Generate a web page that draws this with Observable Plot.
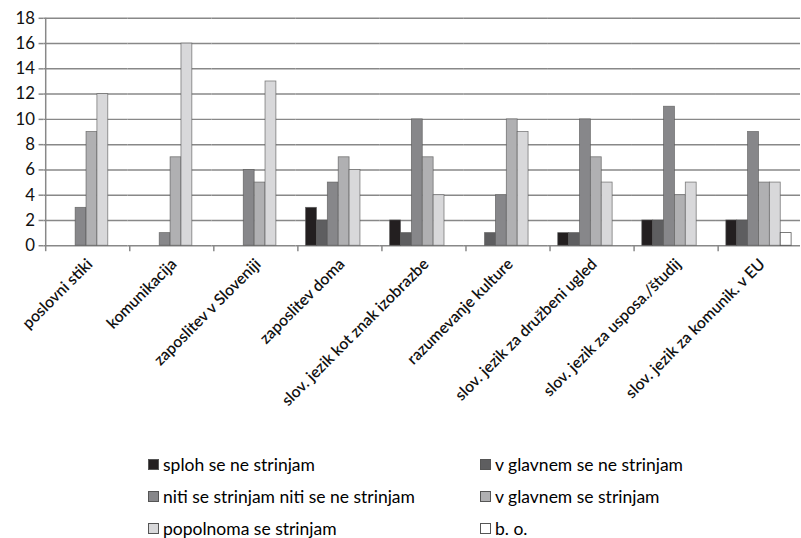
<!DOCTYPE html>
<html>
<head>
<meta charset="utf-8">
<script src="https://cdn.jsdelivr.net/npm/d3@7"></script>
<script src="https://cdn.jsdelivr.net/npm/@observablehq/plot@0.6"></script>
<style>
  html, body { margin: 0; padding: 0; background: #fff; overflow: hidden; }
  #chart svg { display: block; }
  .legend { display: grid; grid-template-columns: 332px auto; grid-auto-rows: 32px;
            margin-top: 13px; padding-left: 148px; font-family: Lato, sans-serif; font-size: 17.5px; color: #000; }
  .legend div { display: flex; align-items: center; }
  .legend span.sw { width: 11px; height: 11px; margin-right: 4px; box-sizing: border-box; border: 1px solid #555; }
</style>
</head>
<body>
<div id="chart"></div>
<div class="legend" id="legend"></div>
<script>
const categories = ["poslovni stiki", "komunikacija", "zaposlitev v Sloveniji", "zaposlitev doma",
  "slov. jezik kot znak izobrazbe", "razumevanje kulture", "slov. jezik za družbeni ugled",
  "slov. jezik za usposa./študij", "slov. jezik za komunik. v EU"];
const series = ["sploh se ne strinjam", "v glavnem se ne strinjam", "niti se strinjam niti se ne strinjam",
  "v glavnem se strinjam", "popolnoma se strinjam", "b. o."];
const colors = ["#231f20", "#5e5e60", "#87878a", "#b0b0b2", "#d8d8da", "#ffffff"];
const sploh      = [0, 0, 0, 3, 2, 0, 1, 2, 2];
const vglavnemNe = [0, 0, 0, 2, 1, 1, 1, 2, 2];
const niti       = [3, 1, 6, 5, 10, 4, 10, 11, 9];
const vglavnemDa = [9, 7, 5, 7, 7, 10, 7, 4, 5];
const popolnoma  = [12, 16, 13, 6, 4, 9, 5, 5, 5];
const bo         = [0, 0, 0, 0, 0, 0, 0, 0, 1];
const yTicks = [0, 2, 4, 6, 8, 10, 12, 14, 16, 18];

const seriesValues = [sploh, vglavnemNe, niti, vglavnemDa, popolnoma, bo];
const table = [];
categories.forEach((c, i) => series.forEach((s, j) => table.push({cat: c, series: s, value: seriesValues[j][i]})));

const paddingOuter = 0.7;
const facetW = 85;
const step = facetW / (series.length + 2 * paddingOuter);
const edge = -step * (0.5 + paddingOuter);

const chart = Plot.plot({
  width: 810, height: 440,
  marginLeft: 44, marginRight: 1, marginTop: 18, marginBottom: 192,
  style: {fontFamily: "Lato, sans-serif", fontSize: "15px", color: "#111", background: "#fff"},
  fx: {domain: categories, padding: 0, label: null},
  x: {domain: series, paddingInner: 0, paddingOuter: paddingOuter, axis: null},
  y: {domain: [0, 18], axis: null},
  color: {domain: series, range: colors},
  marks: [
    Plot.ruleY(yTicks, {stroke: "#888", strokeWidth: 1.5}),
    Plot.ruleX(categories, {fx: d => d, x: () => series[0], dx: edge, y1: 0, y2: -0.47, stroke: "#888", strokeWidth: 1.5}),
    Plot.ruleX([categories[0]], {fx: d => d, x: () => series[0], dx: edge, y1: 0, y2: 18, stroke: "#888", strokeWidth: 1.5}),
    Plot.barY(table.filter(d => d.value > 0), {fx: "cat", x: "series", y: "value", fill: "series",
      stroke: d => d.series === "b. o." ? "#222" : "#555", strokeOpacity: 0.75, strokeWidth: 0.8}),
    Plot.axisY({ticks: yTicks, tickSize: 5, tickPadding: 4, fontSize: 17, stroke: "#888", strokeWidth: 1.5, label: null}),
    Plot.axisFx({anchor: "bottom", tickRotate: -45, tickSize: 0, tickPadding: 14, dx: 4, dy: 2, label: null,
      fontSize: 16, fontWeight: 600})
  ]
});
document.getElementById("chart").appendChild(chart);

const leg = document.getElementById("legend");
series.forEach((s, j) => {
  const d = document.createElement("div");
  d.innerHTML = `<span class="sw" style="background:${colors[j]}"></span>${s}`;
  leg.appendChild(d);
});
</script>
</body>
</html>
